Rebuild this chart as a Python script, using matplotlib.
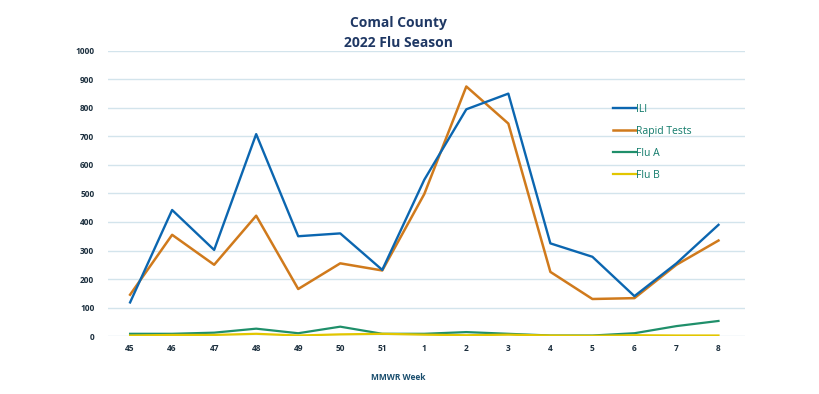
import matplotlib
matplotlib.use("Agg")
import matplotlib.pyplot as plt

# --- data ---
weeks = ["45", "46", "47", "48", "49", "50", "51", "1", "2", "3", "4", "5", "6", "7", "8"]
ili = [118, 442, 302, 708, 350, 360, 232, 548, 795, 850, 325, 278, 140, 255, 390]
rapid_tests = [145, 355, 250, 422, 165, 255, 230, 498, 875, 745, 225, 130, 133, 250, 335]
flu_a = [8, 8, 12, 26, 10, 33, 8, 8, 14, 8, 2, 2, 10, 35, 53]
flu_b = [2, 4, 4, 8, 2, 6, 8, 5, 3, 5, 2, 1, 3, 2, 2]
y_ticks = list(range(0, 1001, 100))

text_col = "#1c2f3e"
plt.rcParams["font.family"] = ["Open Sans", "DejaVu Sans"]

fig = plt.figure(figsize=(8.2, 3.94), dpi=100)
ax = fig.add_axes([0.132, 0.147, 0.777, 0.724])

x = list(range(len(weeks)))
ax.plot(x, ili, color="#0b66b0", lw=1.7, label="ILI", zorder=4)
ax.plot(x, rapid_tests, color="#d07a1c", lw=1.8, label="Rapid Tests", zorder=3)
ax.plot(x, flu_a, color="#1f8f6a", lw=1.6, label="Flu A", zorder=2)
ax.plot(x, flu_b, color="#e2c600", lw=1.6, label="Flu B", zorder=2)

ax.set_xlim(-0.52, 14.64)
ax.set_ylim(0, 1000)
ax.set_xticks(x)
ax.set_xticklabels(weeks)
ax.set_yticks(y_ticks)
ax.tick_params(axis="y", length=0, labelsize=6, labelcolor=text_col, pad=10)
ax.tick_params(axis="x", length=0, labelsize=6, labelcolor=text_col, pad=6)
for lbl in ax.get_xticklabels() + ax.get_yticklabels():
    lbl.set_fontweight("bold")
ax.grid(axis="y", color="#d3e4ec", lw=1.0)
for s in ax.spines.values():
    s.set_visible(False)

fig.text(0.486, 0.942, "Comal County", ha="center", va="center",
         fontsize=10, fontweight="bold", color="#1f3864")
fig.text(0.486, 0.890, "2022 Flu Season", ha="center", va="center",
         fontsize=10, fontweight="bold", color="#1f3864")
fig.text(0.486, 0.043, "MMWR Week", ha="center", va="center",
         fontsize=6, fontweight="bold", color="#1a4e6e")

leg = ax.legend(loc="upper left", bbox_to_anchor=(0.741, 0.750), bbox_transform=fig.transFigure,
                frameon=False, fontsize=7.5, labelspacing=1.05, handlelength=2.2,
                handletextpad=0.05, borderpad=0)
for t in leg.get_texts():
    t.set_color("#107a6a")

fig.savefig("out.png", dpi=100, facecolor="white")
